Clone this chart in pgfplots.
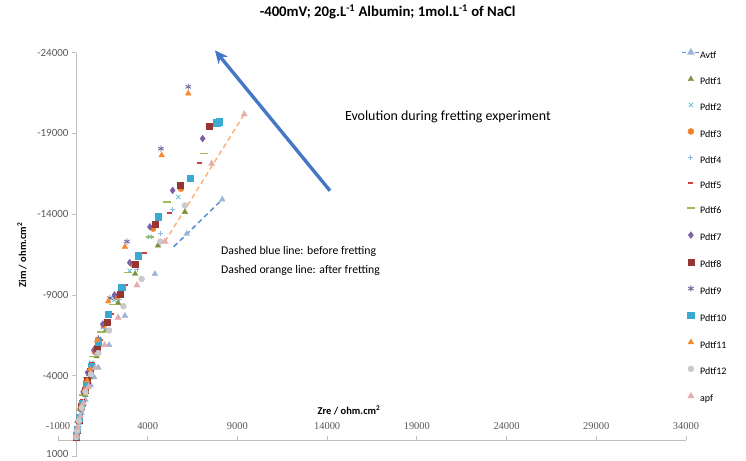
\documentclass[border=0pt]{standalone}
\usepackage{pgfplots}
\pgfplotsset{compat=1.18}
\usepackage{fontspec}
\setmainfont{Carlito}
\newfontfamily\tickserif{Liberation Serif}
\usetikzlibrary{arrows.meta}

\definecolor{axgray}{HTML}{BFBFBF}
\definecolor{txtgray}{HTML}{595959}
\definecolor{cavtf}{HTML}{9DB5D8}
\definecolor{cavline}{HTML}{5A8FD6}
\definecolor{capfline}{HTML}{F9B27E}
\definecolor{cp1}{HTML}{77933C}
\definecolor{cp2}{HTML}{6CC3DA}
\definecolor{cp3}{HTML}{F07F2E}
\definecolor{cp4}{HTML}{8EB4E3}
\definecolor{cp5}{HTML}{D0413D}
\definecolor{cp6}{HTML}{9BBB59}
\definecolor{cp7}{HTML}{7F5FA8}
\definecolor{cp8}{HTML}{963634}
\definecolor{cp9}{HTML}{6E6A9E}
\definecolor{cp10}{HTML}{3BAAD0}
\definecolor{cp11}{HTML}{F7892F}
\definecolor{cp12}{HTML}{CACACA}
\definecolor{capf}{HTML}{E3AFAE}
\definecolor{carrow}{HTML}{4478C4}

\begin{document}
\begin{tikzpicture}
\useasboundingbox (-58bp,-4.5bp) rectangle (688bp,456.5bp);
\begin{axis}[
    at={(0,0)}, anchor=south west,
    scale only axis, width=628bp, height=404bp,
    xmin=-1000, xmax=34000, ymin=-24000, ymax=1000,
    y dir=reverse,
    scaled x ticks=false, scaled y ticks=false,
    axis lines=middle,
    axis line style={axgray, line width=0.8bp, -},
    tick style={axgray, line width=0.8bp},
    major tick length=4bp,
    tick align=outside,
    xtick={-1000,4000,9000,14000,19000,24000,29000,34000},
    xticklabels={-1000,4000,9000,14000,19000,24000,29000,34000},
    ytick={-24000,-19000,-14000,-9000,-4000},
    yticklabels={-24000,-19000,-14000,-9000,-4000},
    extra y ticks={1000},
    extra y tick labels={1000},
    extra y tick style={yticklabel style={yshift=2.5bp}},
    xticklabel style={font=\tickserif\fontsize{10.5}{12}\selectfont, text=txtgray, anchor=south, yshift=11bp},
    yticklabel style={font=\fontsize{11}{12}\selectfont, text=txtgray, anchor=east},
    xlabel={\textbf{Zre / ohm.cm\textsuperscript{2}}},
    ylabel={\textbf{Zim / ohm.cm\textsuperscript{2}}},
    xlabel style={at={(axis description cs:0.4634,0.1151)}, anchor=center, font=\fontsize{10.5}{12}\selectfont},
    ylabel style={at={(axis description cs:-0.0573,0.4988)}, anchor=center, rotate=90, font=\fontsize{10.5}{12}\selectfont},
    title={\textbf{-400mV; 20g.L\textsuperscript{-1} Albumin; 1mol.L\textsuperscript{-1} of NaCl}},
    title style={at={(axis description cs:0.525,1.0854)}, anchor=center, font=\fontsize{14.8}{16}\selectfont},
    clip=false,
    mark size=3bp,
    legend cell align=left,
    legend style={at={(axis description cs:0.9928,1.0084)}, anchor=north west,
        draw=none, fill=none, inner sep=0pt, row sep=15.3bp,
        font=\fontsize{10}{12}\selectfont,
        nodes={inner sep=0pt, text height=7.5bp, text depth=2.5bp},
        /tikz/every even column/.append style={column sep=3.5bp}},
    legend image post style={yshift=3.3bp},
]

\addlegendimage{cavline, dash pattern=on 4bp off 2.5bp, line width=1.4bp, mark=triangle*, mark options={solid, draw=cavtf, fill=cavtf}}
\addlegendentry{Avtf}

% Avtf marks
\addplot[only marks, mark=triangle*, mark size=3.3bp, draw=cavtf, fill=cavtf, forget plot] coordinates {
(8155,-14907) (6171,-12779) (4400,-10300) (2731,-7711) (1850,-5900) (1250,-4500)
(1020,-3900) (830,-3400) (530,-2500) (320,-1700) (170,-1050) (70,-550) (10,-200)};
% dashed lines: before and after fretting
\addplot[cavline, dash pattern=on 5bp off 3.5bp, line width=1.5bp, forget plot] coordinates {(5450,-11980) (8155,-14907)};
\addplot[capfline, dash pattern=on 5bp off 3.5bp, line width=1.5bp, forget plot] coordinates {(4961,-12302) (9381,-20180)};

\addplot[only marks, mark=triangle*, mark size=3.2bp, draw=cp1, fill=cp1] coordinates {
(6076,-14125) (4571,-12054) (3300,-10300) (2350,-8500) (1650,-6800) (1150,-5200)
(950,-4500) (780,-3900) (520,-2800) (320,-1900) (180,-1150) (80,-600) (20,-200)};
\addlegendentry{Pdtf1}

\addplot[only marks, mark=x, mark size=3bp, draw=cp2, line width=0.9bp] coordinates {
(5702,-15056) (4125,-12593) (3000,-10500) (2150,-8700) (1500,-7000) (1050,-5500)
(860,-4800) (700,-4100) (450,-3000) (280,-2000) (150,-1200) (60,-600) (10,-200)};
\addlegendentry{Pdtf2}

\addplot[only marks, mark=*, mark size=3bp, draw=cp3, fill=cp3] coordinates {
(5853,-15571) (4300,-13100) (3150,-10900) (2250,-8900) (1550,-7100) (1050,-5500)
(700,-4200) (560,-3600) (450,-3000) (270,-2000) (140,-1200) (50,-600) (0,-150)};
\addlegendentry{Pdtf3}

\addplot[only marks, mark=+, mark size=2.5bp, draw=cp4, line width=0.8bp] coordinates {
(5400,-14300) (4700,-12800) (3400,-10600) (2400,-8700) (1650,-6900) (1100,-5300)
(720,-4000) (460,-2900) (280,-1900) (150,-1100) (60,-550) (10,-180)};
\addlegendentry{Pdtf4}

\addplot[only marks, mark=-, mark size=2.6bp, draw=cp5, line width=1.8bp] coordinates {
(6873,-17184) (5201,-14082) (3800,-11600) (2750,-9600) (1950,-7800) (1350,-6200)
(900,-4800) (600,-3600) (380,-2500) (210,-1600) (90,-850) (20,-300)};
\addlegendentry{Pdtf5}

\addplot[only marks, mark=-, mark size=4bp, draw=cp6, line width=1.5bp] coordinates {
(7152,-17742) (5056,-14746) (4125,-12593) (2900,-10400) (2050,-8400) (1400,-6700)
(950,-5200) (640,-3900) (410,-2800) (240,-1850) (120,-1100) (40,-500)};
\addlegendentry{Pdtf6}

\addplot[only marks, mark=diamond*, mark size=3.4bp, draw=cp7, fill=cp7] coordinates {
(7062,-18672) (5390,-15465) (4125,-13213) (3000,-11000) (2150,-9000) (1500,-7200)
(1000,-5600) (650,-4200) (400,-3000) (230,-1950) (110,-1150) (30,-500) (0,-150)};
\addlegendentry{Pdtf7}

\addplot[only marks, mark=square*, mark size=3bp, draw=cp8, fill=cp8] coordinates {
(7430,-19436) (5797,-15819) (4404,-13400) (3289,-10918) (2453,-9057) (1750,-7300)
(1200,-5700) (800,-4300) (650,-3700) (520,-3100) (310,-2100) (160,-1250) (60,-600) (0,-200)};
\addlegendentry{Pdtf8}

\addplot[only marks, mark=asterisk, mark size=3.2bp, draw=cp9, line width=0.9bp] coordinates {
(6260,-21880) (4738,-18052) (2843,-12302) (1900,-8800) (1250,-6300) (820,-4500)
(520,-3200) (320,-2200) (180,-1400) (80,-750) (20,-300)};
\addlegendentry{Pdtf9}

\addplot[only marks, mark=square*, mark size=3.2bp, draw=cp10, fill=cp10] coordinates {
(7988,-19708) (7843,-19646) (6355,-16235) (4571,-13834) (3456,-11433) (2547,-9491)
(1784,-7816) (1250,-6100) (850,-4600) (560,-3400) (340,-2300) (180,-1400) (70,-700) (10,-250)};
\addlegendentry{Pdtf10}

\addplot[only marks, mark=triangle*, mark size=3.3bp, draw=cp11, fill=cp11] coordinates {
(6260,-21464) (4777,-17636) (2731,-11973) (1800,-8600) (1180,-6200) (770,-4400)
(620,-3700) (490,-3100) (300,-2100) (160,-1300) (70,-700) (10,-250)};
\addlegendentry{Pdtf11}

\addplot[only marks, mark=*, mark size=3bp, draw=cp12, fill=cp12] coordinates {
(6076,-14535) (4700,-12300) (3662,-9988) (2650,-8300) (1850,-6800) (1250,-5400)
(830,-4100) (530,-3000) (320,-2000) (170,-1200) (70,-600) (10,-200)};
\addlegendentry{Pdtf12}

\addplot[only marks, mark=triangle*, mark size=3.6bp, draw=capf, fill=capf] coordinates {
(9381,-20180) (7564,-17122) (4961,-12302) (3400,-9600) (2350,-7600) (1600,-5900)
(1080,-4500) (700,-3300) (430,-2300) (240,-1500) (110,-800) (30,-300)};
\addlegendentry{apf}

% annotations
\draw[carrow, line width=3.4bp, -{Stealth[length=13bp, width=12bp]}] (axis cs:14158,-15447) -- (axis cs:7748,-24132);
\node[anchor=west, font=\fontsize{14}{15}\selectfont] at (axis cs:14800,-20037) {Evolution during fretting experiment};
\node[anchor=west, font=\fontsize{11.8}{13}\selectfont] at (axis cs:7900,-11663) {Dashed blue line: before fretting};
\node[anchor=west, font=\fontsize{11.8}{13}\selectfont] at (axis cs:7900,-10515) {Dashed orange line: after fretting};
\end{axis}
\end{tikzpicture}
\end{document}
